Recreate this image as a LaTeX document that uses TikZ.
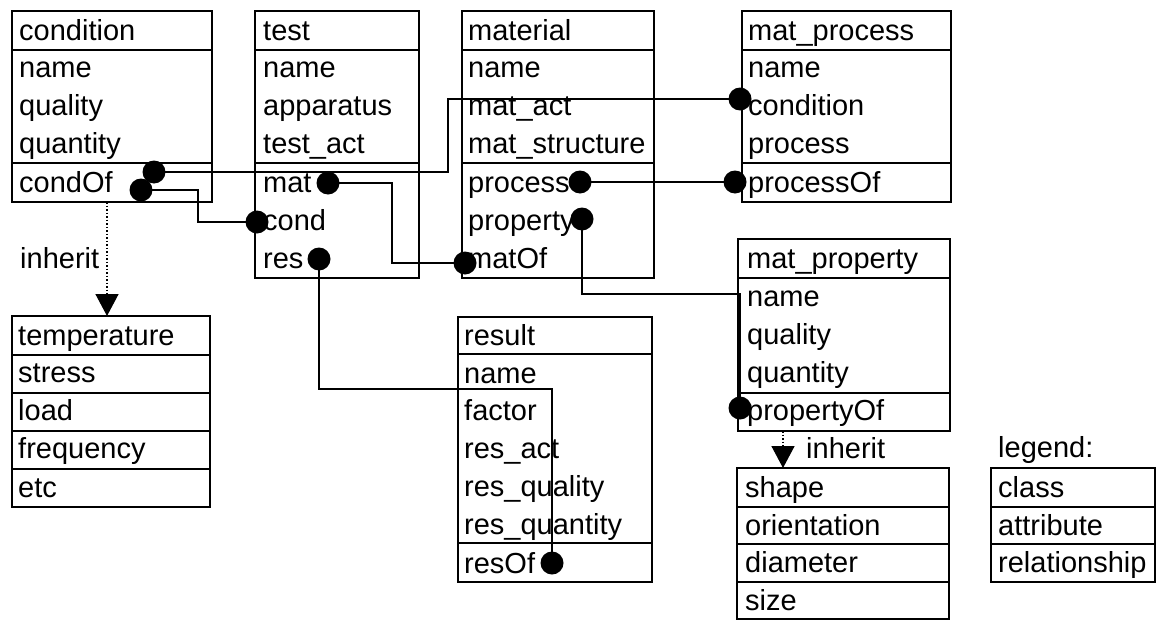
\documentclass[tikz,border=0pt]{standalone}
\usepackage{fontspec}
\setmainfont{Liberation Sans}
\usetikzlibrary{arrows.meta}
\newcommand\umlfs{\fontsize{29}{34}\selectfont}
\tikzset{
  cell/.style={draw, line width=2.5pt, anchor=north west, inner sep=0pt, outer sep=0pt},
  lbl/.style={anchor=base west, inner sep=0pt, font=\umlfs},
  rdot/.style={circle, fill, inner sep=0pt, minimum size=23pt},
  conn/.style={line width=1.8pt},
  inh/.style={line width=1.5pt, dotted, -{Triangle[width=23pt,length=22pt]}},
}
\begin{document}
\begin{tikzpicture}[x=1pt,y=-1pt]
\useasboundingbox (0,0) rectangle (1157,621);
% ---------- condition
\node[cell, minimum width=200pt, minimum height=39pt] (ct) at (12,11) {};
\node[cell, minimum width=200pt, minimum height=113pt] (ca) at (12,50) {};
\node[cell, minimum width=200pt, minimum height=39pt] (cr) at (12,163) {};
\node[lbl] (ct1) at (19,40) {condition};
\node[lbl] (ca1) at (19,77) {name};
\node[lbl] (ca2) at (19,115) {quality};
\node[lbl] (ca3) at (19,153) {quantity};
\node[lbl] (cr1) at (19,192) {condOf};
% ---------- test
\node[cell, minimum width=164pt, minimum height=39pt] (tt) at (255,11) {};
\node[cell, minimum width=164pt, minimum height=113pt] (ta) at (255,50) {};
\node[cell, minimum width=164pt, minimum height=115pt] (tr) at (255,163) {};
\node[lbl] (tt1) at (263,40) {test};
\node[lbl] (ta1) at (263,77) {name};
\node[lbl] (ta2) at (263,115) {apparatus};
\node[lbl] (ta3) at (263,153) {test\_act};
\node[lbl] (tr1) at (263,192) {mat};
\node[lbl] (tr2) at (263,230) {cond};
\node[lbl] (tr3) at (263,268) {res};
% ---------- material
\node[cell, minimum width=192pt, minimum height=39pt] (mt) at (462,11) {};
\node[cell, minimum width=192pt, minimum height=113pt] (ma) at (462,50) {};
\node[cell, minimum width=192pt, minimum height=115pt] (mr) at (462,163) {};
\node[lbl] (mt1) at (468,40) {material};
\node[lbl] (ma1) at (468,77) {name};
\node[lbl] (ma2) at (468,115) {mat\_act};
\node[lbl] (ma3) at (468,153) {mat\_structure};
\node[lbl] (mr1) at (468,192) {process};
\node[lbl] (mr2) at (468,230) {property};
\node[lbl] (mr3) at (468,268) {matOf};
% ---------- mat_process
\node[cell, minimum width=209pt, minimum height=39pt] (pt) at (742,11) {};
\node[cell, minimum width=209pt, minimum height=113pt] (pa) at (742,50) {};
\node[cell, minimum width=209pt, minimum height=39pt] (pr) at (742,163) {};
\node[lbl] (pt1) at (748,40) {mat\_process};
\node[lbl] (pa1) at (748,77) {name};
\node[lbl] (pa2) at (748,115) {condition};
\node[lbl] (pa3) at (748,153) {process};
\node[lbl] (pr1) at (748,192) {processOf};
% ---------- mat_property
\node[cell, minimum width=212pt, minimum height=39pt] (yt) at (738,239) {};
\node[cell, minimum width=212pt, minimum height=115pt] (ya) at (738,278) {};
\node[cell, minimum width=212pt, minimum height=38pt] (yr) at (738,393) {};
\node[lbl] (yt1) at (747,268) {mat\_property};
\node[lbl] (ya1) at (747,306) {name};
\node[lbl] (ya2) at (747,344) {quality};
\node[lbl] (ya3) at (747,382) {quantity};
\node[lbl] (yr1) at (747,420) {propertyOf};
% ---------- result
\node[cell, minimum width=194pt, minimum height=37pt] (rt) at (458,317) {};
\node[cell, minimum width=194pt, minimum height=189pt] (ra) at (458,354) {};
\node[cell, minimum width=194pt, minimum height=39pt] (rr) at (458,543) {};
\node[lbl] (rt1) at (464,345) {result};
\node[lbl] (ra1) at (464,383) {name};
\node[lbl] (ra2) at (464,420) {factor};
\node[lbl] (ra3) at (464,458) {res\_act};
\node[lbl] (ra4) at (464,496) {res\_quality};
\node[lbl] (ra5) at (464,534) {res\_quantity};
\node[lbl] (rr1) at (464,573) {resOf};
% ---------- temperature group
\node[cell, minimum width=198pt, minimum height=39pt] (e1) at (12,316) {};
\node[cell, minimum width=198pt, minimum height=38pt] (e2) at (12,355) {};
\node[cell, minimum width=198pt, minimum height=38pt] (e3) at (12,393) {};
\node[cell, minimum width=198pt, minimum height=38pt] (e4) at (12,431) {};
\node[cell, minimum width=198pt, minimum height=38pt] (e5) at (12,469) {};
\node[lbl] (e1t) at (18,345) {temperature};
\node[lbl] (e2t) at (18,382) {stress};
\node[lbl] (e3t) at (18,420) {load};
\node[lbl] (e4t) at (18,458) {frequency};
\node[lbl] (e5t) at (18,497) {etc};
% ---------- shape group
\node[cell, minimum width=212pt, minimum height=39pt] (s1) at (737,468) {};
\node[cell, minimum width=212pt, minimum height=37pt] (s2) at (737,507) {};
\node[cell, minimum width=212pt, minimum height=38pt] (s3) at (737,544) {};
\node[cell, minimum width=212pt, minimum height=37pt] (s4) at (737,582) {};
\node[lbl] (s1t) at (745,497) {shape};
\node[lbl] (s2t) at (745,535) {orientation};
\node[lbl] (s3t) at (745,572) {diameter};
\node[lbl] (s4t) at (745,610) {size};
% ---------- legend
\node[lbl] (lgt) at (998,457) {legend:};
\node[cell, minimum width=164pt, minimum height=39pt] (l1) at (991,468) {};
\node[cell, minimum width=164pt, minimum height=37pt] (l2) at (991,507) {};
\node[cell, minimum width=164pt, minimum height=38pt] (l3) at (991,544) {};
\node[lbl] (l1t) at (998,497) {class};
\node[lbl] (l2t) at (998,535) {attribute};
\node[lbl] (l3t) at (998,572) {relationship};
% ---------- inherit arrows
\node[lbl] (inh1) at (20,268) {inherit};
\node[lbl] (inh2) at (806,458) {inherit};
\coordinate (i1a) at (107,202);
\coordinate (i1b) at (107,316);
\coordinate (i2a) at (783,431);
\coordinate (i2b) at (783,468);
\draw[inh] (i1a) -- (i1b);
\draw[inh] (i2a) -- (i2b);
% ---------- relationship dots
\node[rdot] (dA) at (154,172) {};
\node[rdot] (dB) at (141,190) {};
\node[rdot] (dTc) at (257,222) {};
\node[rdot] (dTm) at (328,183) {};
\node[rdot] (dTr) at (319,259) {};
\node[rdot] (dMo) at (465,263) {};
\node[rdot] (dMp) at (580,182) {};
\node[rdot] (dMy) at (582,219) {};
\node[rdot] (dMPc) at (740,99) {};
\node[rdot] (dMPo) at (735,182) {};
\node[rdot] (dPo) at (740,408) {};
\node[rdot] (dRo) at (552,563) {};
% ---------- bends
\coordinate (k1) at (448,130);
\coordinate (k2) at (198,205);
\coordinate (k3) at (392,220);
\coordinate (k4) at (430,389);
\coordinate (k6) at (740,294);
% ---------- connectors
\draw[conn] (dA.center) -| (k1) |- (dMPc.center);
\draw[conn] (dB.center) -| (k2) |- (dTc.center);
\draw[conn] (dTm.center) -| (k3) |- (dMo.center);
\draw[conn] (dTr.center) |- (k4) -| (dRo.center);
\draw[conn] (dMp.center) -- (dMPo.center);
\draw[conn] (dMy.center) |- (k6) -- (dPo.center);
\end{tikzpicture}
\end{document}
